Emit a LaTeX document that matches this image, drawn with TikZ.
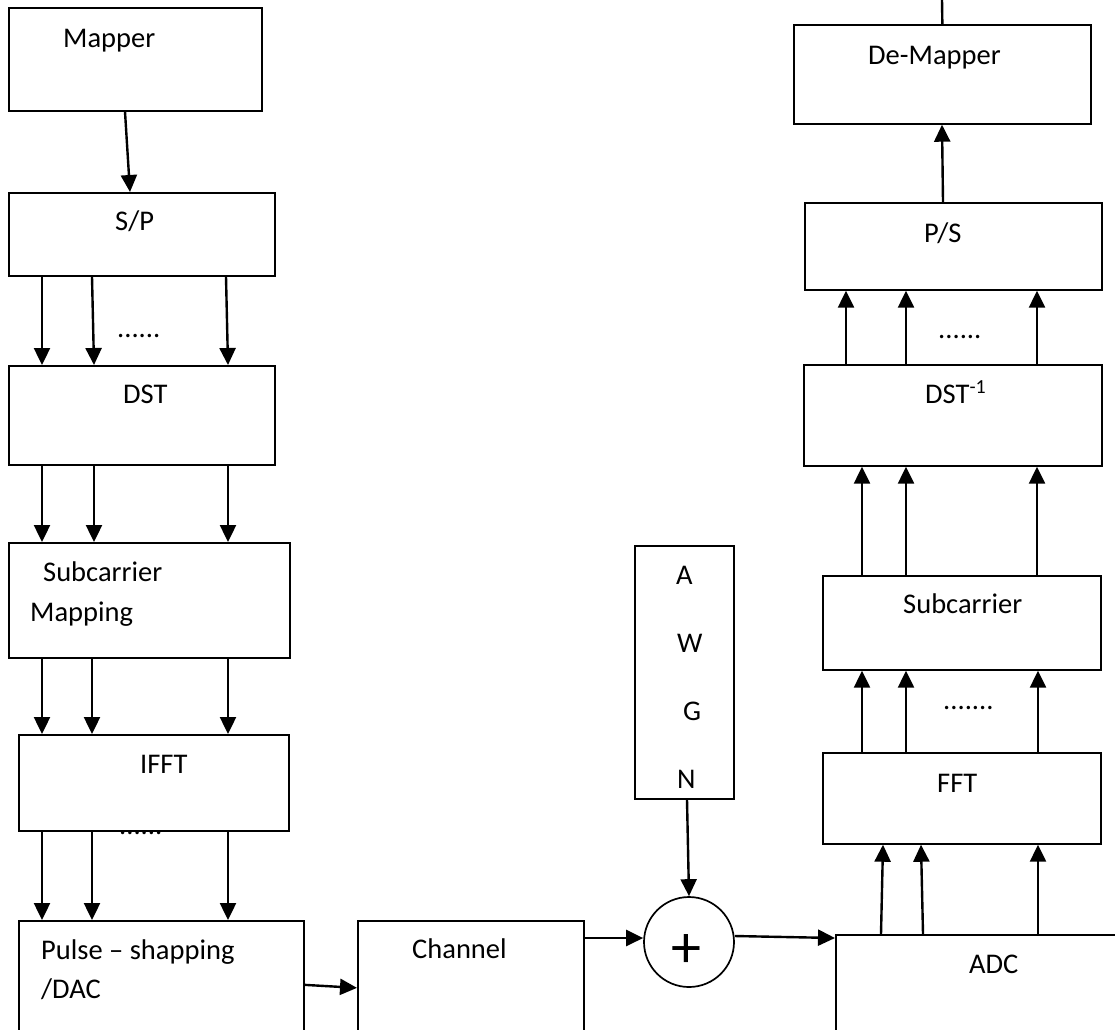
\documentclass[tikz,border=0pt]{standalone}
\usepackage{fontspec}
\setmainfont{Carlito}
\usetikzlibrary{arrows.meta}

\tikzset{
    blk/.style={draw, line width=1.7pt, inner sep=0pt, anchor=north west},
    txt/.style={inner sep=0pt, anchor=base west, font=\fontsize{28.5}{34}\selectfont},
    arr/.style={line width=2.4pt, -{Triangle[length=17pt, width=16pt]}}
}

\begin{document}
\begin{tikzpicture}[x=1pt, y=-1pt]
    \useasboundingbox (0,0) rectangle (1115,1029);
    \clip (0,0) rectangle (1115,1029);

    % Transmitter blocks
    \node[blk, minimum width=253pt, minimum height=103pt] (mapper) at (8,7) {};
    \node[blk, minimum width=266pt, minimum height=83pt] (sp) at (8,192) {};
    \node[blk, minimum width=266pt, minimum height=99pt] (dst) at (8,365) {};
    \node[blk, minimum width=281pt, minimum height=115pt] (scm) at (8,542) {};
    \node[blk, minimum width=270pt, minimum height=96pt] (ifft) at (18,734) {};
    \node[blk, minimum width=285pt, minimum height=115pt] (pulse) at (18,920) {};

    % Channel and noise
    \node[blk, minimum width=226pt, minimum height=115pt] (channel) at (357,920) {};
    \node[blk, minimum width=99pt, minimum height=253pt] (awgn) at (634,545) {};
    \node[draw, circle, line width=1.7pt, minimum size=90pt, inner sep=0pt] (sum) at (689,942) {};

    % Receiver blocks
    \node[blk, minimum width=290pt, minimum height=100pt] (adc) at (835,934) {};
    \node[blk, minimum width=278pt, minimum height=91pt] (fft) at (822,752) {};
    \node[blk, minimum width=278pt, minimum height=94pt] (scr) at (822,575) {};
    \node[blk, minimum width=298pt, minimum height=101pt] (idst) at (803,364) {};
    \node[blk, minimum width=297pt, minimum height=87pt] (ps) at (804,202) {};
    \node[blk, minimum width=297pt, minimum height=99pt] (demap) at (793,24) {};
    \coordinate (out) at (942,0);

    % Labels
    \node[txt] (t-mapper) at (63,47) {Mapper};
    \node[txt] (t-sp) at (115,230) {S/P};
    \node[txt] (t-dots1) at (117,337) {......};
    \node[txt] (t-dst) at (123,403) {DST};
    \node[txt] (t-scm1) at (43,581) {Subcarrier};
    \node[txt] (t-scm2) at (30,621) {Mapping};
    \node[txt] (t-ifft) at (140,773) {IFFT};
    \node[txt] (t-dots2) at (119,834) {......};
    \node[txt] (t-pulse1) at (41,959) {Pulse – shapping};
    \node[txt] (t-pulse2) at (41,998) {/DAC};
    \node[txt] (t-channel) at (412,958) {Channel};
    \node[txt] (t-a) at (676,584) {A};
    \node[txt] (t-w) at (677,652) {W};
    \node[txt] (t-g) at (683,720) {G};
    \node[txt] (t-n) at (677,788) {N};
    \node[inner sep=0pt, font=\fontsize{60}{60}\selectfont] (t-plus) at (686,951) {+};
    \node[txt] (t-adc) at (969,973) {ADC};
    \node[txt] (t-fft) at (937,792) {FFT};
    \node[txt] (t-dots3) at (943,709) {.......};
    \node[txt] (t-scr) at (903,613) {Subcarrier};
    \node[txt] (t-idst) at (925,403) {DST\textsuperscript{-1}};
    \node[txt] (t-dots4) at (938,338) {......};
    \node[txt] (t-ps) at (924,242) {P/S};
    \node[txt] (t-demap) at (868,64) {De-Mapper};

    % Transmitter arrows
    \draw[arr] ([xshift=117pt]mapper.south west) -- ([xshift=122pt]sp.north west);
    \draw[arr] ([xshift=34pt]sp.south west) -- ([xshift=34pt]dst.north west);
    \draw[arr] ([xshift=84pt]sp.south west) -- ([xshift=86pt]dst.north west);
    \draw[arr] ([xshift=218pt]sp.south west) -- ([xshift=220pt]dst.north west);
    \draw[arr] ([xshift=34pt]dst.south west) -- ([xshift=34pt]scm.north west);
    \draw[arr] ([xshift=86pt]dst.south west) -- ([xshift=86pt]scm.north west);
    \draw[arr] ([xshift=220pt]dst.south west) -- ([xshift=220pt]scm.north west);
    \draw[arr] ([xshift=34pt]scm.south west) -- ([xshift=24pt]ifft.north west);
    \draw[arr] ([xshift=84pt]scm.south west) -- ([xshift=74pt]ifft.north west);
    \draw[arr] ([xshift=220pt]scm.south west) -- ([xshift=210pt]ifft.north west);
    \draw[arr] ([xshift=24pt]ifft.south west) -- ([xshift=24pt]pulse.north west);
    \draw[arr] ([xshift=74pt]ifft.south west) -- ([xshift=74pt]pulse.north west);
    \draw[arr] ([xshift=210pt]ifft.south west) -- ([xshift=210pt]pulse.north west);

    % Channel arrows
    \draw[arr] ([yshift=-6.5pt]pulse.east) -- ([yshift=-9.5pt]channel.west);
    \draw[arr] ([yshift=-18pt]channel.north east) -- ([yshift=4pt]sum.west);
    \draw[arr] ([xshift=53pt]awgn.south west) -- (sum.north);
    \draw[arr] ([yshift=6pt]sum.east) -- ([yshift=-4pt]adc.north west);

    % Receiver arrows
    \draw[arr] ([xshift=46pt]adc.north west) -- ([xshift=61pt]fft.south west);
    \draw[arr] ([xshift=88pt]adc.north west) -- ([xshift=99pt]fft.south west);
    \draw[arr] ([xshift=203pt]adc.north west) -- ([xshift=216pt]fft.south west);
    \draw[arr] ([xshift=40pt]fft.north west) -- ([xshift=40pt]scr.south west);
    \draw[arr] ([xshift=84pt]fft.north west) -- ([xshift=84pt]scr.south west);
    \draw[arr] ([xshift=216pt]fft.north west) -- ([xshift=216pt]scr.south west);
    \draw[arr] ([xshift=40pt]scr.north west) -- ([xshift=59pt]idst.south west);
    \draw[arr] ([xshift=84pt]scr.north west) -- ([xshift=103pt]idst.south west);
    \draw[arr] ([xshift=215pt]scr.north west) -- ([xshift=234pt]idst.south west);
    \draw[arr] ([xshift=43pt]idst.north west) -- ([xshift=42pt]ps.south west);
    \draw[arr] ([xshift=103pt]idst.north west) -- ([xshift=102pt]ps.south west);
    \draw[arr] ([xshift=234pt]idst.north west) -- ([xshift=233pt]ps.south west);
    \draw[arr] ([xshift=139pt]ps.north west) -- ([xshift=149pt]demap.south west);
    \draw[line width=2.4pt] (demap.north) -- (out);
\end{tikzpicture}
\end{document}
